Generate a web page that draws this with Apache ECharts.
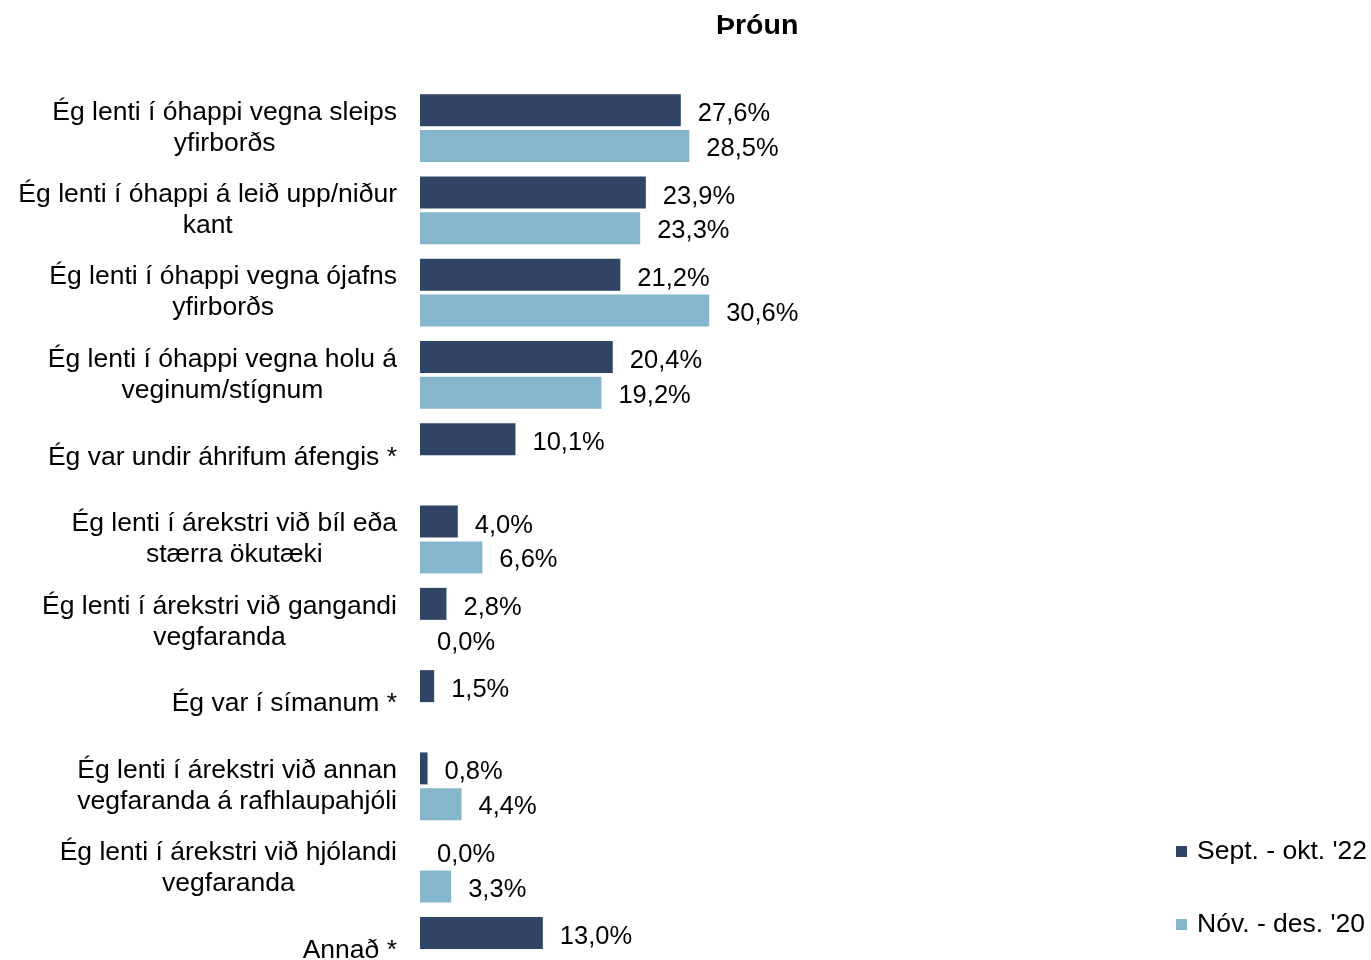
<!DOCTYPE html>
<html>
<head>
<meta charset="utf-8">
<script src="https://cdn.jsdelivr.net/npm/echarts@6/dist/echarts.min.js"></script>
<style>
html,body{margin:0;padding:0;background:#fff;overflow:hidden;}
#chart{width:1371px;height:1000px;}
</style>
</head>
<body>
<div id="chart"></div>
<script>
const categories = [
  "Ég lenti í óhappi vegna sleips\nyfirborðs",
  "Ég lenti í óhappi á leið upp/niður\nkant",
  "Ég lenti í óhappi vegna ójafns\nyfirborðs",
  "Ég lenti í óhappi vegna holu á\nveginum/stígnum",
  "Ég var undir áhrifum áfengis *",
  "Ég lenti í árekstri við bíl eða\nstærra ökutæki",
  "Ég lenti í árekstri við gangandi\nvegfaranda",
  "Ég var í símanum *",
  "Ég lenti í árekstri við annan\nvegfaranda á rafhlaupahjóli",
  "Ég lenti í árekstri við hjólandi\nvegfaranda",
  "Annað *"
];
const seriesNames = ["Sept. - okt. '22", "Nóv. - des. '20"];
const sept22 = [27.6, 23.9, 21.2, 20.4, 10.1, 4.0, 2.8, 1.5, 0.8, 0.0, 13.0];
const nov20  = [28.5, 23.3, 30.6, 19.2, null, 6.6, 0.0, null, 4.4, 3.3, null];
const titleText = "Þróun";

const FONT = "'Liberation Sans', Arial, sans-serif";
const fmt = p => p.value.toFixed(1).replace('.', ',') + '%';

const chart = echarts.init(document.getElementById('chart'), null, {renderer: 'canvas'});
const labelCfg = dy => ({
  show: true,
  position: 'right',
  distance: 17,
  offset: [0, dy],
  color: '#000',
  fontSize: 25.5,
  fontFamily: FONT,
  formatter: fmt
});
chart.setOption({
  animation: false,
  backgroundColor: '#fff',
  title: {
    text: titleText,
    left: 711,
    top: 7,
    textStyle: {fontSize: 28.5, fontWeight: 'bold', color: '#000', fontFamily: FONT}
  },
  legend: {
    orient: 'vertical',
    left: 1171,
    top: 833,
    itemWidth: 11,
    itemHeight: 11,
    itemGap: 46,
    icon: 'rect',
    textStyle: {fontSize: 26.5, color: '#000', fontFamily: FONT, padding: [0, 0, 0, 5]},
    data: seriesNames
  },
  grid: {left: 420, top: 87, width: 945, height: 905, containLabel: false},
  xAxis: {
    type: 'value', min: 0, max: 100, show: false
  },
  yAxis: {
    type: 'category',
    inverse: true,
    data: categories,
    axisLine: {show: false},
    axisTick: {show: false},
    splitLine: {show: false},
    axisLabel: {
      margin: 23,
      color: '#000',
      fontSize: 26.5,
      fontFamily: FONT,
      lineHeight: 31,
      formatter: v => v.split('\n').map(l => '{c|' + l + '}').join('\n'),
      rich: {c: {align: 'center', fontSize: 26.5, fontFamily: FONT, color: '#000', lineHeight: 31}}
    }
  },
  series: [
    {
      name: seriesNames[0], type: 'bar', data: sept22,
      barWidth: 32, barGap: '12%',
      itemStyle: {color: '#304566'},
      label: labelCfg(4)
    },
    {
      name: seriesNames[1], type: 'bar', data: nov20,
      barWidth: 32, barGap: '12%',
      itemStyle: {color: '#86B6CC'},
      label: labelCfg(3)
    }
  ]
});
</script>
</body>
</html>
